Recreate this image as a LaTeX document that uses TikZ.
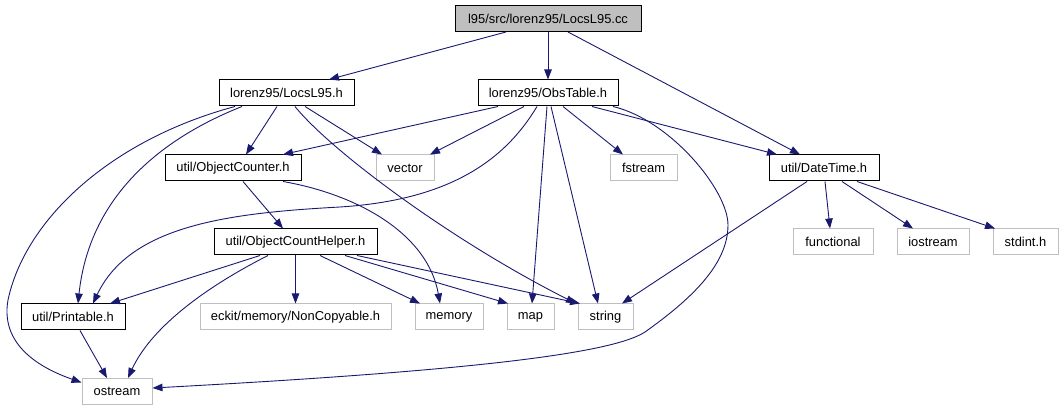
\documentclass[tikz,border=0pt]{standalone}
\usepackage{fontspec}
\setmainfont{Liberation Sans}
\usetikzlibrary{arrows.meta}
\definecolor{edgeblue}{HTML}{191970}
\definecolor{sysgray}{HTML}{BFBFBF}
\begin{document}
\begin{tikzpicture}[x=1pt,y=-1pt,
  base/.style={rectangle,inner sep=0pt,minimum height=26pt,font=\fontsize{12.9}{15}\selectfont},
  docbox/.style={base,draw=black,line width=1pt,fill=white},
  sysbox/.style={base,draw=sysgray,line width=1pt,fill=white},
  rootbox/.style={base,draw=black,line width=1pt,fill=sysgray},
  dep/.style={draw=edgeblue,line width=0.9pt,-{Triangle[length=10pt,width=7.5pt]},fill=none}
]
\useasboundingbox (0,0) rectangle (1063,411);

% nodes
\node[rootbox,minimum width=186pt] (cc) at (548,18.5) {l95/src/lorenz95/LocsL95.cc};
\node[docbox,minimum width=135pt] (lh) at (286.5,93) {lorenz95/LocsL95.h};
\node[docbox,minimum width=140pt] (ot) at (548,93) {lorenz95/ObsTable.h};
\node[docbox,minimum width=136pt] (oc) at (233,168) {util/ObjectCounter.h};
\node[sysbox,minimum width=58pt] (vec) at (405,168) {vector};
\node[sysbox,minimum width=67pt] (fst) at (643.5,168) {fstream};
\node[docbox,minimum width=110pt] (dt) at (824,168) {util/DateTime.h};
\node[docbox,minimum width=163pt] (och) at (295.5,242) {util/ObjectCountHelper.h};
\node[sysbox,minimum width=80pt] (fun) at (833,242) {functional};
\node[sysbox,minimum width=72pt] (ios) at (933,242) {iostream};
\node[sysbox,minimum width=65pt] (std) at (1025.5,242) {stdint.h};
\node[docbox,minimum width=104pt] (pr) at (73,317) {util/Printable.h};
\node[sysbox,minimum width=191pt] (nc) at (295.5,317) {eckit/memory/NonCopyable.h};
\node[sysbox,minimum width=68pt] (mem) at (449,317) {memory};
\node[sysbox,minimum width=47pt] (map) at (530.5,317) {map};
\node[sysbox,minimum width=55pt] (str) at (605.5,317) {string};
\node[sysbox,minimum width=70pt] (os) at (117,391.5) {ostream};

% edges from LocsL95.cc
\draw[dep] ([xshift=-42pt]cc.south) -- ([xshift=42.5pt]lh.north);
\draw[dep] (cc.south) -- (ot.north);
\draw[dep] ([xshift=20pt]cc.south) -- ([xshift=-24pt]dt.north);

% edges from LocsL95.h
\draw[dep] ([xshift=-9.5pt]lh.south) -- ([xshift=13pt]oc.north);
\draw[dep] ([xshift=18.5pt]lh.south) -- ([xshift=-23pt]vec.north);
\draw[dep] ([xshift=-44.5pt]lh.south) .. controls (170,135) and (90,190) .. ([xshift=5pt]pr.north);
\draw[dep] ([xshift=-51.5pt]lh.south) .. controls (110,140) and (25,220) .. (8,300)
   .. controls (0,345) and (40,368) .. ([yshift=9pt]os.west);
\draw[dep] ([xshift=8.5pt]lh.south) .. controls (330,150) and (450,240) .. ([xshift=-29.5pt]str.north);

% edges from ObsTable.h
\draw[dep] ([xshift=44pt]ot.south) -- ([xshift=-47pt]dt.north);
\draw[dep] ([xshift=-50pt]ot.south) -- ([xshift=50pt]oc.north);
\draw[dep] ([xshift=-24pt]ot.south) -- ([xshift=25pt]vec.north);
\draw[dep] ([xshift=15pt]ot.south) -- ([xshift=-20.5pt]fst.north);
\draw[dep] ([xshift=-1pt]ot.south) -- ([xshift=1.5pt]map.north);
\draw[dep] ([xshift=3pt]ot.south) -- ([xshift=-7.5pt]str.north);
\draw[dep] ([xshift=-11pt]ot.south) .. controls (505,160) and (450,200) .. (340,207)
   .. controls (230,213) and (130,225) .. ([xshift=20pt]pr.north);
\draw[dep] ([xshift=65pt]ot.south) .. controls (670,120) and (728,190) .. (728,225)
   .. controls (728,265) and (690,300) .. (645,332)
   .. controls (610,355) and (450,372) .. ([yshift=3.5pt]os.east);

% edges from ObjectCounter.h
\draw[dep] ([xshift=10pt]oc.south) -- ([xshift=-12.5pt]och.north);
\draw[dep] ([xshift=50pt]oc.south) .. controls (360,195) and (428,235) .. ([xshift=-9pt]mem.north);

% edges from ObjectCountHelper.h
\draw[dep] ([xshift=-35.5pt]och.south) -- ([xshift=37pt]pr.north);
\draw[dep] ([xshift=-27.5pt]och.south) .. controls (200,290) and (150,330) .. ([xshift=11pt]os.north);
\draw[dep] (och.south) -- (nc.north);
\draw[dep] ([xshift=24.5pt]och.south) -- ([xshift=-29pt]mem.north);
\draw[dep] ([xshift=49.5pt]och.south) -- ([xshift=-22.5pt]map.north);
\draw[dep] ([xshift=61.5pt]och.south) -- ([xshift=-25.5pt]str.north);

% edges from DateTime.h
\draw[dep] ([xshift=1pt]dt.south) -- ([xshift=-3pt]fun.north);
\draw[dep] ([xshift=18pt]dt.south) -- ([xshift=-20pt]ios.north);
\draw[dep] ([xshift=33pt]dt.south) -- ([xshift=-30.5pt]std.north);
\draw[dep] ([xshift=-17pt]dt.south) -- ([xshift=16.5pt]str.north);

% edges from Printable.h
\draw[dep] ([xshift=7pt]pr.south) -- ([xshift=-10pt]os.north);
\end{tikzpicture}
\end{document}
